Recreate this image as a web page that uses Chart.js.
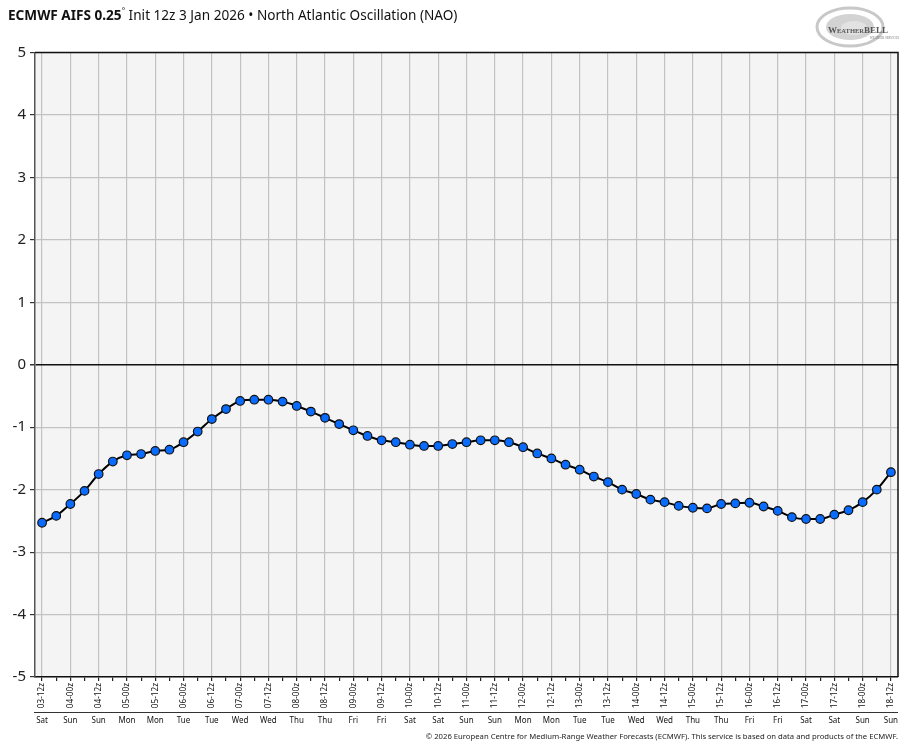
<!DOCTYPE html>
<html>
<head>
<meta charset="utf-8">
<script src="https://cdn.jsdelivr.net/npm/chart.js@4.4.1/dist/chart.umd.min.js"></script>
<style>
  html, body { margin: 0; padding: 0; background: #fff; }
  #wrap { position: relative; width: 914px; height: 750px; }
  #title { position: absolute; left: 8px; top: 5px; font: 13.6px "Noto Sans", sans-serif; color: #111; white-space: nowrap; }
  #title b { font-weight: 700; }
  #title sup { font-size: 8px; }
  #logo { position: absolute; left: 812px; top: 3px; }
  #foot { position: absolute; right: 16px; top: 731px; font: 7.7px "Noto Sans", sans-serif; color: #222; white-space: nowrap; }
</style>
</head>
<body>
<div id="wrap">
  <canvas id="c" width="914" height="750"></canvas>
  <div id="title"><b>ECMWF AIFS 0.25</b><sup>°</sup> Init 12z 3 Jan 2026 • North Atlantic Oscillation (NAO)</div>
  <svg id="logo" width="92" height="48" viewBox="0 0 92 48">
    <ellipse cx="38" cy="24" rx="33" ry="19" fill="none" stroke="#c8c8c8" stroke-width="3"/>
    <ellipse cx="38" cy="24" rx="24" ry="13" fill="#a8a8a8" opacity="0.5"/>
    <ellipse cx="42" cy="25" rx="13" ry="7" fill="#e2e2e2"/>
    <text x="16" y="30" font-family="Liberation Serif, serif" font-size="9" font-weight="700" fill="#555">W<tspan font-size="6.5">EATHER</tspan>BELL</text>
    <text x="58" y="36" font-family="Liberation Serif, serif" font-size="3" fill="#777">WEATHER SERVICES</text>
  </svg>
  <div id="foot">© 2026 European Centre for Medium-Range Weather Forecasts (ECMWF). This service is based on data and products of the ECMWF.</div>
</div>
<script>
// 6-hourly NAO index, 03-12z .. 18-12z
const naoValues = [
  -2.53, -2.42, -2.23, -2.02, -1.75, -1.55, -1.45, -1.43, -1.38, -1.36,
  -1.24, -1.07, -0.87, -0.71, -0.58, -0.56, -0.56, -0.59, -0.66, -0.75,
  -0.85, -0.95, -1.05, -1.14, -1.21, -1.24, -1.28, -1.30, -1.30, -1.27,
  -1.24, -1.21, -1.21, -1.24, -1.32, -1.42, -1.50, -1.60, -1.68, -1.79,
  -1.88, -2.00, -2.07, -2.16, -2.20, -2.26, -2.29, -2.30, -2.23, -2.22,
  -2.21, -2.27, -2.34, -2.44, -2.47, -2.47, -2.40, -2.33, -2.20, -2.00,
  -1.72
];
// labels every 12 h (every second point)
const runLabels = [
  "03-12z", "04-00z", "04-12z", "05-00z", "05-12z", "06-00z", "06-12z", "07-00z",
  "07-12z", "08-00z", "08-12z", "09-00z", "09-12z", "10-00z", "10-12z", "11-00z",
  "11-12z", "12-00z", "12-12z", "13-00z", "13-12z", "14-00z", "14-12z", "15-00z",
  "15-12z", "16-00z", "16-12z", "17-00z", "17-12z", "18-00z", "18-12z"
];
const dayNames = [
  "Sat", "Sun", "Sun", "Mon", "Mon", "Tue", "Tue", "Wed", "Wed", "Thu", "Thu",
  "Fri", "Fri", "Sat", "Sat", "Sun", "Sun", "Mon", "Mon", "Tue", "Tue", "Wed",
  "Wed", "Thu", "Thu", "Fri", "Fri", "Sat", "Sat", "Sun", "Sun"
];
const yTicks = [5, 4, 3, 2, 1, 0, -1, -2, -3, -4, -5];

const pts = naoValues.map((v, i) => ({ x: i, y: v }));

// plot background, frame, day-name row
const extras = {
  id: "extras",
  beforeDraw(chart) {
    const { ctx, chartArea: a } = chart;
    ctx.save();
    ctx.fillStyle = "#f4f4f4";
    ctx.fillRect(a.left, a.top, a.right - a.left, a.bottom - a.top);
    ctx.restore();
  },
  afterDraw(chart) {
    const { ctx, chartArea: a } = chart;
    const xs = chart.scales.x;
    ctx.save();
    ctx.strokeStyle = "#111";
    ctx.lineWidth = 1.5;
    ctx.beginPath();
    ctx.moveTo(a.left, a.top); ctx.lineTo(a.right, a.top); ctx.lineTo(a.right, a.bottom);
    ctx.stroke();
    ctx.strokeStyle = "#333";
    ctx.lineWidth = 1.2;
    ctx.beginPath();
    ctx.moveTo(a.left - 1, 712.5); ctx.lineTo(a.right, 712.5);
    ctx.stroke();
    ctx.fillStyle = "#111";
    ctx.font = '8px "Liberation Sans Narrow", "Noto Sans", sans-serif';
    ctx.textAlign = "center";
    ctx.textBaseline = "middle";
    dayNames.forEach((d, k) => ctx.fillText(d, xs.getPixelForValue(k * 2), 721));
    ctx.restore();
  }
};

new Chart(document.getElementById("c"), {
  type: "line",
  data: {
    datasets: [{
      data: pts,
      borderColor: "#000",
      borderWidth: 2,
      pointRadius: 4.3,
      pointBackgroundColor: "#0a6cff",
      pointBorderColor: "#111",
      pointBorderWidth: 1.2,
      tension: 0.3,
      cubicInterpolationMode: "monotone"
    }]
  },
  options: {
    responsive: false,
    animation: false,
    events: [],
    layout: { padding: { top: 52.5, right: 16, left: 0, bottom: 0 } },
    plugins: { legend: { display: false }, tooltip: { enabled: false } },
    scales: {
      x: {
        type: "linear",
        min: -0.5, max: 60.5,
        afterBuildTicks: (s) => { s.ticks = naoValues.map((_, i) => ({ value: i })); },
        afterFit: (s) => { s.height = 73; },
        border: { display: true, color: "#111", width: 1.5 },
        grid: {
          color: (c) => (c.tick && c.tick.value % 2 === 0) ? "#c2c2c2" : "rgba(0,0,0,0)",
          lineWidth: 1.2,
          tickColor: "#222",
          tickLength: 4
        },
        ticks: {
          autoSkip: false,
          minRotation: 90, maxRotation: 90,
          padding: 2,
          color: "#111",
          font: { family: '"Liberation Sans Narrow", "Noto Sans", sans-serif', size: 8.2 },
          callback: (v) => (v % 2 === 0 ? runLabels[v / 2] : "")
        }
      },
      y: {
        min: -5, max: 5,
        afterBuildTicks: (s) => { s.ticks = yTicks.map((v) => ({ value: v })); },
        afterFit: (s) => { s.width = 35; },
        border: { display: true, color: "#555", width: 1.5 },
        grid: {
          color: (c) => (c.tick && c.tick.value === 0 ? "#111" : "#c2c2c2"),
          lineWidth: (c) => (c.tick && c.tick.value === 0 ? 1.5 : 1.2),
          tickColor: "#333",
          tickLength: 5
        },
        ticks: {
          padding: 4,
          color: "#222",
          font: { family: '"Noto Sans", sans-serif', size: 15 },
          callback: (v) => String(v)
        }
      }
    }
  },
  plugins: [extras]
});
</script>
</body>
</html>
